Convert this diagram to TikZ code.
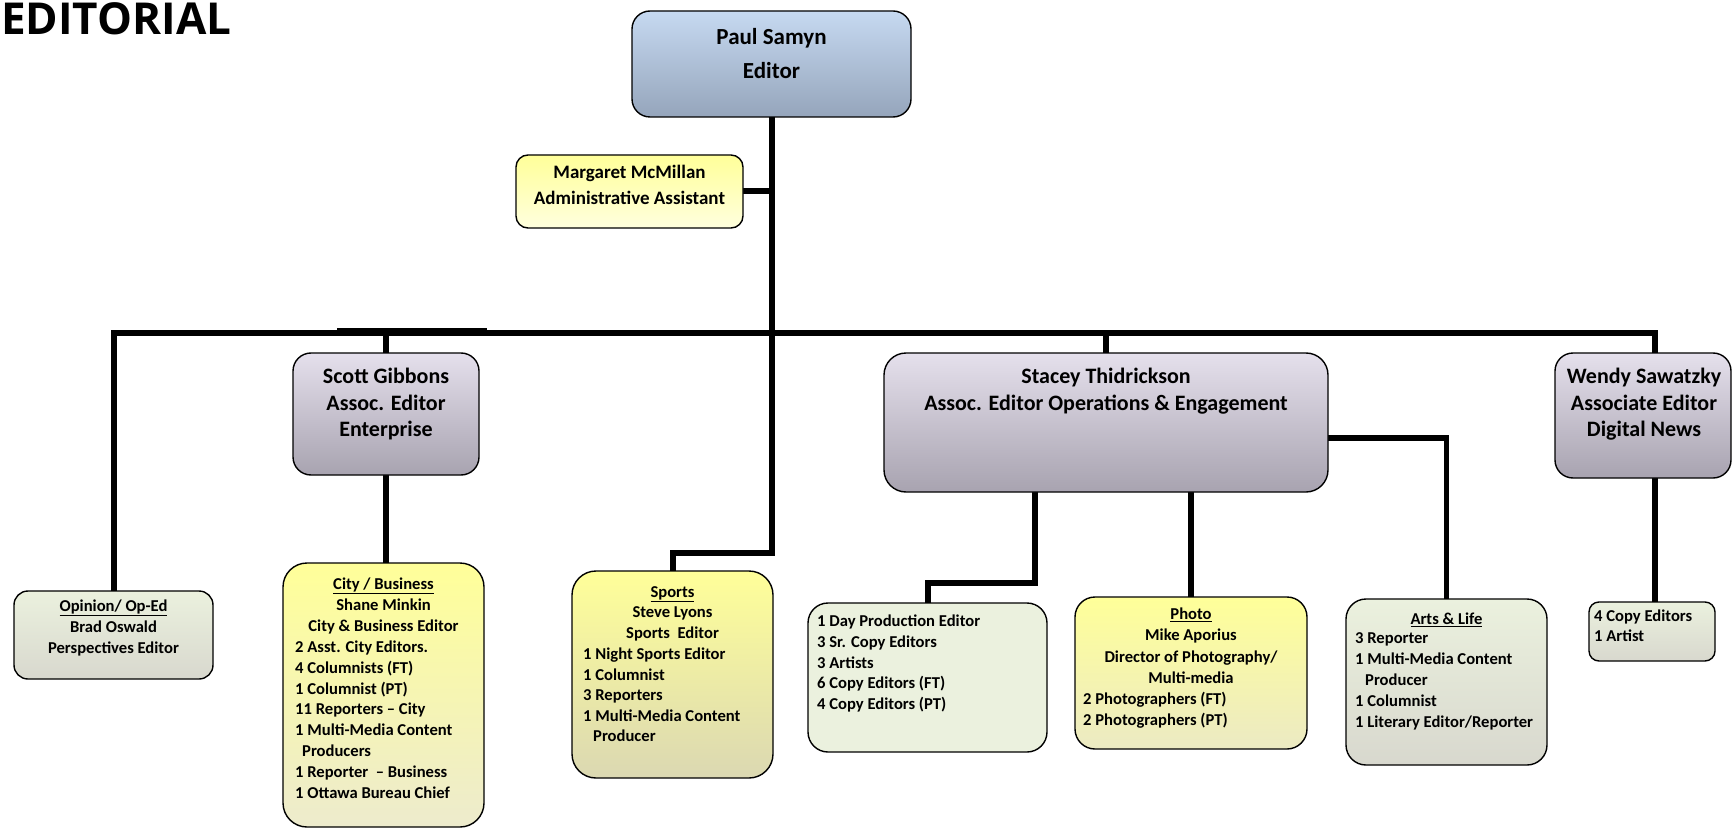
\documentclass[tikz,border=0pt]{standalone}
\usepackage{fontspec}
\setmainfont{Carlito}
\newfontfamily\headfont{Open Sans}
\usetikzlibrary{backgrounds}
\definecolor{paultop}{RGB}{198,217,241}
\definecolor{paulbot}{RGB}{149,165,187}
\definecolor{lavtop}{RGB}{229,224,236}
\definecolor{lavbot}{RGB}{168,163,176}
\definecolor{yeltop}{RGB}{255,255,153}
\definecolor{margbot}{RGB}{255,255,222}
\definecolor{citybot}{RGB}{237,235,205}
\definecolor{sportbot}{RGB}{219,216,178}
\definecolor{photobot}{RGB}{236,234,195}
\definecolor{grntop}{RGB}{235,241,222}
\definecolor{grnbot}{RGB}{216,216,206}
\tikzset{
  box/.style={draw=black, line width=1.4pt, rounded corners=#1, inner sep=0pt, outer sep=0pt},
  box/.default=18pt,
  lav/.style={top color=lavtop, bottom color=lavbot},
  yel/.style={top color=yeltop, bottom color=#1},
  grn/.style={top color=grntop, bottom color=grnbot},
  conn/.style={line width=6pt, line join=miter, line cap=butt},
  busline/.style={line width=5.5pt, line join=miter, line cap=butt},
  bigt/.style={font=\bfseries\fontsize{22}{26.5}\selectfont, align=center, anchor=base, inner sep=0pt},
  smallc/.style={font=\bfseries\fontsize{16.6}{#1}\selectfont, align=center, anchor=base, inner sep=0pt},
  smallc/.default=20.8pt,
  smalll/.style={font=\bfseries\fontsize{16.6}{#1}\selectfont, align=left, anchor=base west, inner sep=0pt},
  smalll/.default=20.8pt,
}
\begin{document}
\begin{tikzpicture}[x=1pt,y=-1pt]
\useasboundingbox (0,0) rectangle (1732,829);
% title
\node[font=\headfont\bfseries\fontsize{44}{50}\selectfont, anchor=base west, inner sep=0pt] (title) at (1,35) {EDITORIAL};
% boxes
\node[box, top color=paultop, bottom color=paulbot, minimum width=279, minimum height=106] (paul) at (771.5,64) {};
\node[box=12pt, yel=margbot, minimum width=227, minimum height=73] (marg) at (629.5,191.5) {};
\node[box, lav, minimum width=186, minimum height=122] (scott) at (386,414) {};
\node[box=22pt, lav, minimum width=444, minimum height=139] (stacey) at (1106,422.5) {};
\node[box, lav, minimum width=176, minimum height=125] (wendy) at (1643,415.5) {};
\node[box=14pt, grn, minimum width=199, minimum height=88] (opinion) at (113.5,635) {};
\node[box=24pt, yel=citybot, minimum width=201, minimum height=264] (city) at (383.5,695) {};
\node[box=24pt, yel=sportbot, minimum width=201, minimum height=207] (sports) at (672.5,674.5) {};
\node[box=20pt, fill=grntop, minimum width=239, minimum height=149] (day) at (927.5,677.5) {};
\node[box=20pt, yel=photobot, minimum width=232, minimum height=152] (photo) at (1191,673) {};
\node[box=20pt, grn, minimum width=201, minimum height=166] (arts) at (1446.5,682) {};
\node[box=10pt, grn, minimum width=126, minimum height=59] (copy) at (1652,631.5) {};
% texts (base anchor = baseline of the last line)
\node[font=\bfseries\fontsize{23}{34}\selectfont, align=center, anchor=base, inner sep=0pt] (paul-t) at (771.5,79) {Paul Samyn\\Editor};
\node[font=\bfseries\fontsize{19}{26}\selectfont, align=center, anchor=base, inner sep=0pt] (marg-t) at (629.5,204.5) {Margaret McMillan\\Administrative Assistant};
\node[bigt] (scott-t) at (386,436.5) {Scott Gibbons\\Assoc. Editor\\Enterprise};
\node[bigt] (stacey-t) at (1106,410) {Stacey Thidrickson\\Assoc. Editor Operations \& Engagement};
\node[bigt] (wendy-t) at (1644,436.5) {Wendy Sawatzky\\Associate Editor\\Digital News};
\node[smallc=21pt] (opinion-t) at (113.5,653.5) {\underline{Opinion/ Op-Ed}\\Brad Oswald\\Perspectives Editor};
\node[smallc] (city-h) at (383.5,631.1) {\underline{City / Business}\\Shane Minkin\\City \& Business Editor};
\node[smalll] (city-l) at (295,798.1) {2 Asst. City Editors.\\4 Columnists (FT)\\1 Columnist (PT)\\11 Reporters – City\\1 Multi-Media Content\\\hspace*{7pt}Producers\\1 Reporter\ \ – Business\\1 Ottawa Bureau Chief};
\node[smallc=20.4pt] (sports-h) at (672.5,638.3) {\underline{Sports}\\Steve Lyons\\Sports\ \ Editor};
\node[smalll=20.5pt] (sports-l) at (583,741.5) {1 Night Sports Editor\\1 Columnist\\3 Reporters\\1 Multi-Media Content\\\hspace*{10pt}Producer};
\node[smalll=20.8pt] (day-l) at (817,709.7) {1 Day Production Editor\\3 Sr. Copy Editors\\3 Artists\\6 Copy Editors (FT)\\4 Copy Editors (PT)};
\node[smallc=21.3pt] (photo-h) at (1191,683.4) {\underline{Photo}\\Mike Aporius\\Director of Photography/\\Multi-media};
\node[smalll=20.5pt] (photo-l) at (1083,725) {2 Photographers (FT)\\2 Photographers (PT)};
\node[smallc] (arts-h) at (1446.5,624.5) {\underline{Arts \& Life}};
\node[smalll=21pt] (arts-l) at (1355,727.5) {3 Reporter\\1 Multi-Media Content\\\hspace*{10pt}Producer\\1 Columnist\\1 Literary Editor/Reporter};
\node[smalll=20pt] (copy-l) at (1594,641.5) {4 Copy Editors\\1 Artist};
% connectors
\begin{pgfonlayer}{background}
\coordinate (bus) at (0,333);
\coordinate (wtop) at ([xshift=12pt]wendy.north);
\coordinate (wbot) at ([xshift=12pt]wendy.south);
\coordinate (sd) at ([xshift=-71pt]stacey.south);
\path (sports.north) ++(0,-18) coordinate (j1);
\path (day.north) ++(0,-20) coordinate (j2);
\coordinate (dbl1) at (337,330.5);
\coordinate (dbl2) at (487,330.5);
\draw[busline] (opinion.north) -- (opinion.north |- bus) -- (wtop |- bus) -- (wtop);
\draw[busline] (dbl1) -- (dbl2);
\draw[conn] (opinion.north) -- (opinion.north |- bus);
\draw[conn] (scott.north) -- (scott.north |- bus);
\draw[conn] (stacey.north) -- (stacey.north |- bus);
\draw[conn] (wtop) -- (wtop |- bus);
\draw[conn] (paul.south) |- (j1) -- (sports.north);
\draw[conn] (marg.east) -- (marg.east -| paul.south);
\draw[conn] (scott.south) -- (scott.south |- city.north);
\draw[conn] (sd) |- (j2) -- (day.north);
\draw[conn] (photo.north |- stacey.south) -- (photo.north);
\draw[busline] ([yshift=-15.5pt]stacey.east) -| (arts.north);
\draw[conn] (wbot) -- (wbot |- copy.north);
\end{pgfonlayer}
\end{tikzpicture}
\end{document}
